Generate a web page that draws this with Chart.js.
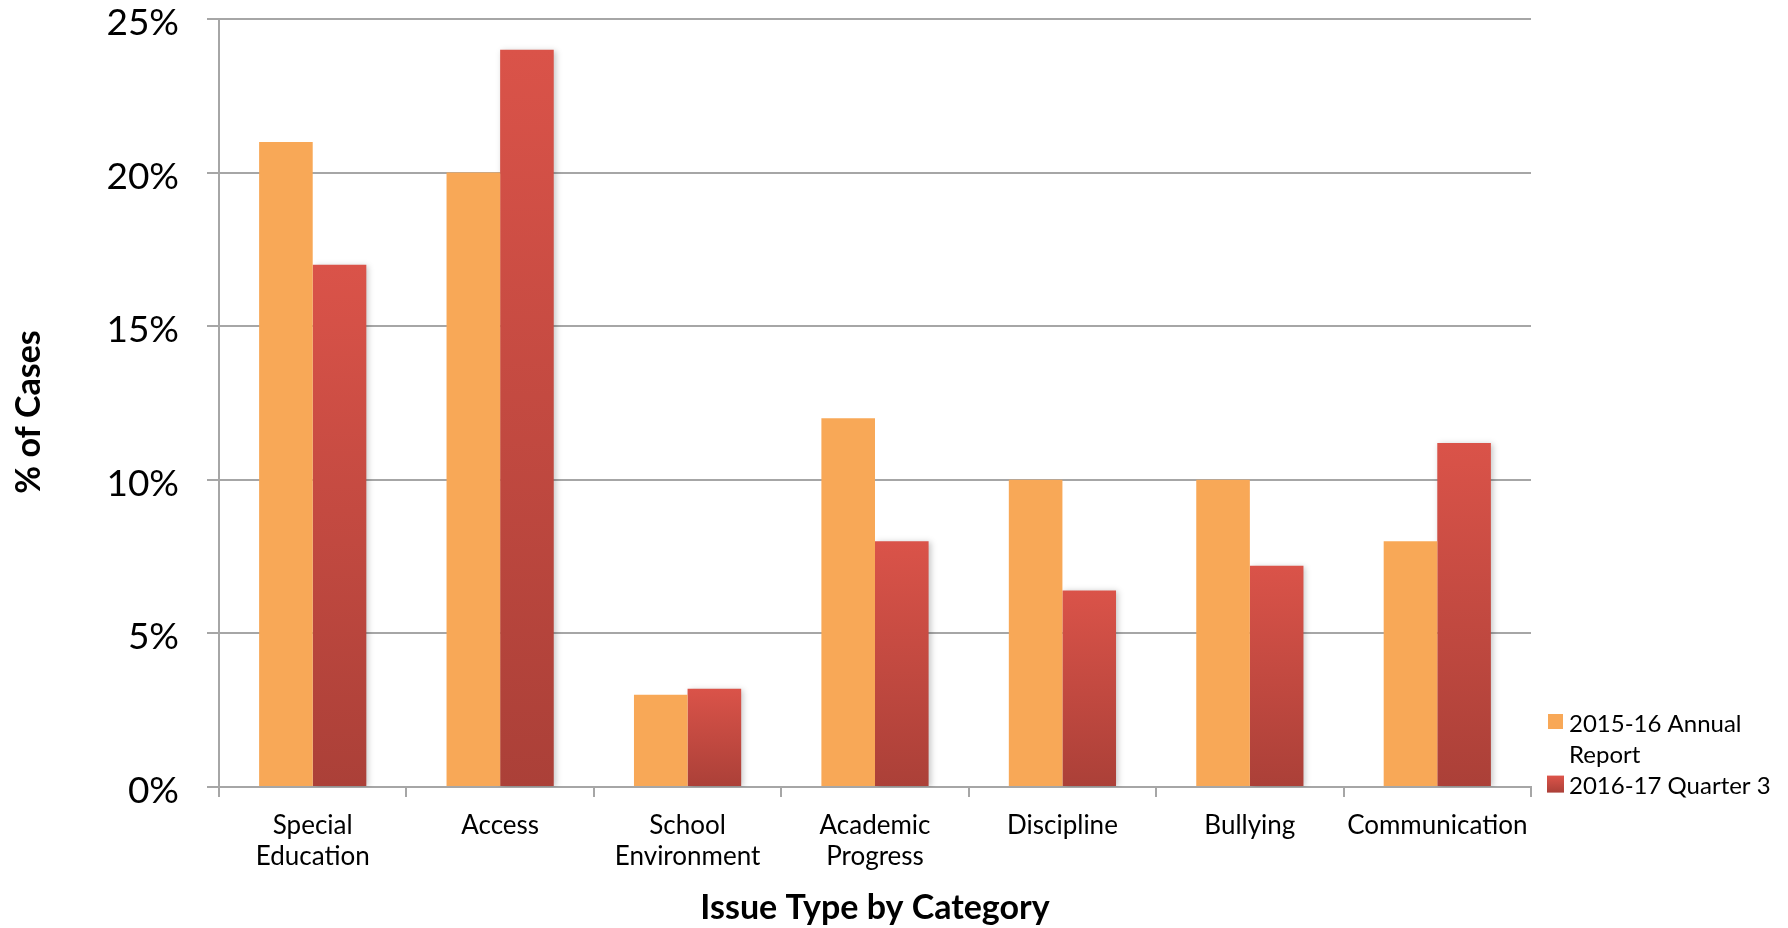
<!DOCTYPE html>
<html>
<head>
<meta charset="utf-8">
<script src="https://cdn.jsdelivr.net/npm/chart.js@4.4.1/dist/chart.umd.min.js"></script>
<style>
  html, body { margin: 0; padding: 0; background: #ffffff; }
  #wrap { width: 1788px; height: 928px; position: relative; }
</style>
</head>
<body>
<div id="wrap"><canvas id="chart" width="1788" height="928"></canvas></div>
<script>
// Category labels (multi-line where the axis wraps them)
const categories = [
  ['Special', 'Education'],
  'Access',
  ['School', 'Environment'],
  ['Academic', 'Progress'],
  'Discipline',
  'Bullying',
  'Communication'
];

// Series names
const seriesNames = ['2015-16 Annual Report', '2016-17 Quarter 3'];

// Share of cases (%) per issue type
const annual2015 = [21, 20, 3, 12, 10, 10, 8];
const quarter2016 = [17, 24, 3.2, 8, 6.4, 7.2, 11.2];

// Value axis ticks
const yTicks = [0, 5, 10, 15, 20, 25];

// Axis titles
const xTitle = 'Issue Type by Category';
const yTitle = '% of Cases';

const FONT = 'Lato, "Open Sans", "DejaVu Sans", sans-serif';
const GRID = '#a6a6a6';
const ORANGE = '#f8a857';
const RED_TOP = '#da5349';
const RED_BOTTOM = '#ab4038';

// Vertical red gradient spanning each bar from its top down to the baseline
function redGradient(ctx) {
  const chart = ctx.chart;
  if (ctx.type !== 'data' || !chart.chartArea) return RED_TOP;
  const y = chart.scales.y;
  const top = y.getPixelForValue(ctx.raw);
  const base = y.getPixelForValue(0);
  if (!isFinite(top) || !isFinite(base) || top === base) return RED_TOP;
  const g = chart.ctx.createLinearGradient(0, top, 0, base);
  g.addColorStop(0, RED_TOP);
  g.addColorStop(1, RED_BOTTOM);
  return g;
}

// Soft drop shadow under the red bars
const barShadow = {
  id: 'barShadow',
  beforeDatasetDraw(chart, args) {
    const c = chart.ctx;
    c.save();
    if (args.index === 1) {
      c.shadowColor = 'rgba(0,0,0,0.22)';
      c.shadowBlur = 6;
      c.shadowOffsetX = 2;
      c.shadowOffsetY = 1;
    }
  },
  afterDatasetDraw(chart) {
    chart.ctx.restore();
  }
};

// Rotated value-axis title, placed a little below the plot's middle
const yAxisTitle = {
  id: 'yAxisTitle',
  afterDraw(chart) {
    const c = chart.ctx;
    const area = chart.chartArea;
    c.save();
    c.translate(29, (area.top + area.bottom) / 2 + 9);
    c.rotate(-Math.PI / 2);
    c.font = 'bold 34px ' + FONT;
    c.fillStyle = '#000';
    c.textAlign = 'center';
    c.textBaseline = 'middle';
    c.fillText(yTitle, 0, 0);
    c.restore();
  }
};

// Legend drawn at the lower right, with word wrapping
const sideLegend = {
  id: 'sideLegend',
  afterDraw(chart) {
    const c = chart.ctx;
    const area = chart.chartArea;
    const boxX = 1548, textX = 1569, box = 15, lineH = 31.3, maxW = 212;
    c.save();
    c.font = '24px ' + FONT;
    c.textBaseline = 'alphabetic';
    c.textAlign = 'left';
    c.fillStyle = '#000';
    let baseline = area.bottom - 55.5;
    chart.data.datasets.forEach((ds, i) => {
      // wrap label words
      const words = ds.label.split(' ');
      const lines = [];
      let cur = '';
      words.forEach(w => {
        const t = cur ? cur + ' ' + w : w;
        if (c.measureText(t).width > maxW && cur) { lines.push(cur); cur = w; }
        else cur = t;
      });
      if (cur) lines.push(cur);
      const bTop = baseline - 17.5;
      if (i === 1) {
        const g = c.createLinearGradient(0, bTop, 0, bTop + box + 1);
        g.addColorStop(0, RED_TOP);
        g.addColorStop(1, RED_BOTTOM);
        c.fillStyle = g;
        c.fillRect(boxX - 1, bTop - 1, box + 2, box + 2);
      } else {
        c.fillStyle = ORANGE;
        c.fillRect(boxX, bTop, box, box);
      }
      c.fillStyle = '#000';
      lines.forEach((ln, k) => c.fillText(ln, textX, baseline + k * lineH));
      baseline += lines.length * lineH;
    });
    c.restore();
  }
};

new Chart(document.getElementById('chart'), {
  type: 'bar',
  data: {
    labels: categories,
    datasets: [
      {
        label: seriesNames[0],
        data: annual2015,
        backgroundColor: ORANGE,
        borderWidth: 0,
        categoryPercentage: 0.572,
        barPercentage: 1.0
      },
      {
        label: seriesNames[1],
        data: quarter2016,
        backgroundColor: redGradient,
        borderWidth: 0,
        categoryPercentage: 0.572,
        barPercentage: 1.0
      }
    ]
  },
  options: {
    responsive: false,
    animation: false,
    devicePixelRatio: 1,
    layout: { padding: { top: 19, right: 257, bottom: 0, left: 0 } },
    plugins: {
      legend: { display: false },
      tooltip: { enabled: false }
    },
    scales: {
      x: {
        offset: true,
        grid: {
          offset: true,
          drawOnChartArea: false,
          drawTicks: true,
          tickLength: 10,
          color: GRID,
          lineWidth: 2
        },
        border: { display: true, color: GRID, width: 2 },
        ticks: {
          autoSkip: false,
          maxRotation: 0,
          minRotation: 0,
          padding: 13,
          color: '#000',
          font: { family: FONT, size: 26, lineHeight: 1.2 }
        },
        title: {
          display: true,
          text: xTitle,
          color: '#000',
          font: { family: FONT, size: 34, weight: 'bold', lineHeight: 1.2 },
          padding: { top: 0, bottom: 0 }
        },
        afterFit(scale) { scale.height = 141; }
      },
      y: {
        min: 0,
        max: 25,
        afterBuildTicks(scale) { scale.ticks = yTicks.map(v => ({ value: v })); },
        grid: {
          color: GRID,
          lineWidth: 2,
          drawTicks: true,
          tickLength: 12
        },
        border: { display: true, color: GRID, width: 2 },
        ticks: {
          padding: 28,
          labelOffset: 4,
          color: '#000',
          font: { family: FONT, size: 37, lineHeight: 1 },
          callback: v => v + '%'
        },
        title: { display: false },
        afterFit(scale) {
          scale.width = 219;
          scale.paddingTop = 19;
          scale.paddingBottom = 0;
        }
      }
    }
  },
  plugins: [barShadow, yAxisTitle, sideLegend]
});
</script>
</body>
</html>
